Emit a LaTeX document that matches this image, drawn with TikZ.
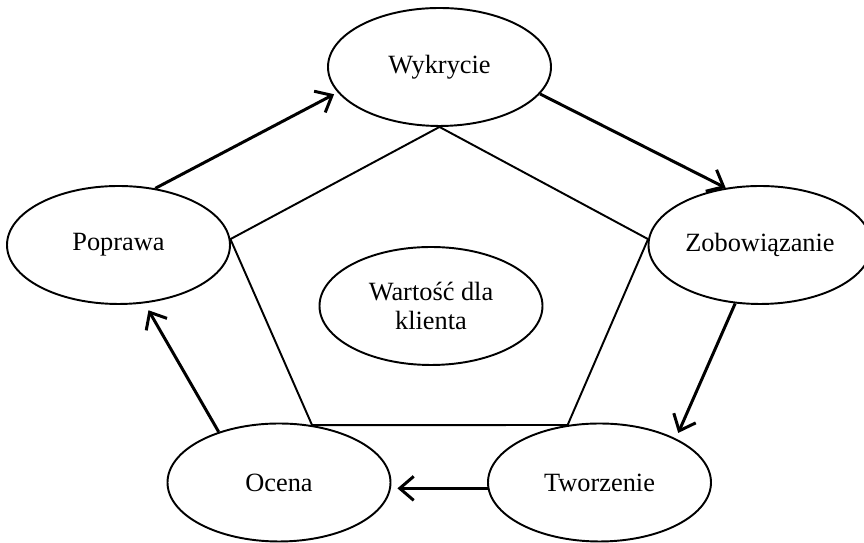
\documentclass[tikz,border=0pt]{standalone}
\usepackage{fontspec}
\setmainfont{Liberation Serif}
\usepackage{tikz}
\usetikzlibrary{shapes.geometric, arrows.meta}
\tikzstyle{stage} = [ellipse, minimum width=4.46cm, minimum height=2.36cm, inner sep=0pt,
text centered, align=center, draw=black, line width=1.1pt, font=\fontsize{15}{16}\selectfont]
\tikzstyle{edge} = [line width=1.1pt]
\tikzstyle{arrow} = [line width=1.7pt, -{Straight Barb[length=2.8mm, width=4.8mm]}]

\begin{document}
\begin{tikzpicture}
\useasboundingbox (0,0) rectangle (17.28,10.86);

% ------------------------- nodes -------------------------

% ----- node: top
\node(wykrycie)[stage] at (8.79,9.52) {Wykrycie};
% ----- node: right
\node(zobowiazanie)[stage] at (15.2,5.96) {Zobowiązanie};
% ----- node: bottom right
\node(tworzenie)[stage] at (11.99,1.21) {Tworzenie};
% ----- node: bottom left
\node(ocena)[stage] at (5.58,1.21) {Ocena};
% ----- node: left
\node(poprawa)[stage] at (2.37,5.96) {Poprawa};
% ----- node: centre
\node(wartosc)[stage] at (8.62,4.74) {Wartość dla\\klienta};

% ------------------------- pentagon -------------------------
\draw[edge] (wykrycie.south) -- (poprawa.3);
\draw[edge] (wykrycie.south) -- (zobowiazanie.177);
\draw[edge] (poprawa.3) -- (ocena.60.6);
\draw[edge] (zobowiazanie.177) -- (tworzenie.119.4);
\draw[edge] (ocena.60.6) -- (tworzenie.119.4);

% ------------------------- cycle -------------------------
\draw[arrow, shorten >=0.08cm] (poprawa.57) -- (wykrycie.194.2);
\draw[arrow] (wykrycie.345.5) -- (zobowiazanie.121);
\draw[arrow, shorten >=0.12cm] (zobowiazanie.247) -- (tworzenie.30.3);
\draw[arrow, shorten >=0.13cm] (tworzenie.183) -- (ocena.357);
\draw[arrow, shorten >=0.16cm] (ocena.140.8) -- (poprawa.294.3);

\end{tikzpicture}
\end{document}
